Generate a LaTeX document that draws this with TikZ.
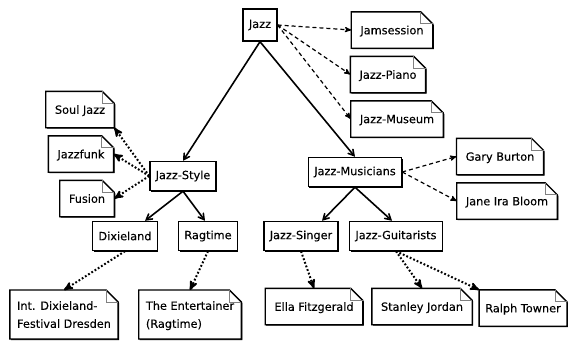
\documentclass[tikz,border=0pt]{standalone}
\usepackage{fontspec}
\setmainfont{DejaVu Sans}[FakeBold=0.12]
\usetikzlibrary{arrows,positioning,shadows}
\pgfdeclarelayer{background}
\pgfsetlayers{background,main}

\begin{document}
\begin{tikzpicture}[x=1pt,y=-1pt,on grid,
        font=\fontsize{11.3}{18}\selectfont,
        box/.style={rectangle,draw,line width=1.4pt,fill=white,inner xsep=5.8pt,
          minimum height=29pt,
          drop shadow={shadow xshift=1pt,shadow yshift=-1pt,fill=black,opacity=1}},
        note/.style={rectangle,align=left,inner xsep=9pt,inner ysep=11pt,
          minimum height=36pt,text depth=0pt,yshift=-1.5pt},
        notebody/.style={draw,line width=1.4pt,fill=white,
          drop shadow={shadow xshift=1pt,shadow yshift=-1pt,fill=black,opacity=1}},
        sub/.style={-angle 60,line width=1.6pt},
        link/.style={->,>=stealth',line width=1.2pt,dash pattern=on 4pt off 3pt},
        refer/.style={->,>=stealth',line width=2pt,dash pattern=on 1.8pt off 2pt}]

  \useasboundingbox (0,0) rectangle (569,343);

  \node[box,minimum height=32pt] (jazz) at (260,25) {Jazz};
  \node[note] (jam) [below right=3.5pt and 132pt of jazz] {Jamsession};
  \node[note] (piano) [below left=43pt and 4pt of jam] {Jazz-Piano};
  \node[note] (museum) [below right=43pt and 9pt of piano] {Jazz-Museum};

  \node[box] (style) [below left=151pt and 77pt of jazz] {Jazz-Style};
  \node[note] (souljazz) [above left=68pt and 103pt of style] {Soul Jazz};
  \node[note] (jazzfunk) [below right=43pt and 1pt of souljazz] {Jazzfunk};
  \node[note] (fusion) [below right=43pt and 6pt of jazzfunk] {Fusion};
  \node[box] (dix) [below left=60pt and 58pt of style] {Dixieland};
  \node[box] (rag) [right=83pt of dix] {Ragtime};
  \node[note,inner xsep=7pt] (intdix) [below left=77pt and 61pt of dix] {Int. Dixieland-\\Festival Dresden};
  \node[note,inner xsep=7pt] (enter) [below left=77pt and 18pt of rag] {The Entertainer\\(Ragtime)};

  \node[box] (musicians) [below right=147pt and 95pt of jazz] {Jazz-Musicians};
  \node[note] (gary) [above right=17pt and 145pt of musicians] {Gary Burton};
  \node[note] (jane) [below right=43pt and 7pt of gary] {Jane Ira Bloom};
  \node[box] (singer) [below left=64pt and 54pt of musicians] {Jazz-Singer};
  \node[box] (guit) [right=95pt of singer] {Jazz-Guitarists};
  \node[note] (ella) [below right=69pt and 13pt of singer] {Ella Fitzgerald};
  \node[note] (stanley) [below right=69pt and 26pt of guit] {Stanley Jordan};
  \node[note,inner xsep=6pt] (ralph) [right=101pt of stanley] {Ralph Towner};

  % note outlines with folded corner
  \begin{pgfonlayer}{background}
    \foreach \n in {jam,piano,museum,souljazz,jazzfunk,fusion,intdix,enter,
                    gary,jane,ella,stanley,ralph}{
      \draw[notebody] (\n.north west) -- ([xshift=-12pt]\n.north east)
        -- ([yshift=-12pt]\n.north east) -- (\n.south east) -- (\n.south west) -- cycle;
      \draw[gray,line width=.7pt] ([xshift=-12pt]\n.north east) |- ([yshift=-12pt]\n.north east);
    }
  \end{pgfonlayer}

  \draw[sub] (jazz.south) -- (style.north);
  \draw[sub] (jazz.south) -- (musicians.north);
  \draw[sub] (style.south) -- ([xshift=20pt]dix.north);
  \draw[sub] (style.south) -- ([xshift=-3pt]rag.north);
  \draw[sub] (musicians.south) -- ([xshift=21pt]singer.north);
  \draw[sub] (musicians.south) -- ([xshift=-4pt]guit.north);

  \draw[link] (jazz.east) -- (jam.west);
  \draw[link] (jazz.east) -- (piano.west);
  \draw[link] (jazz.east) -- (museum.west);
  \draw[link] (musicians.east) -- (gary.west);
  \draw[link] (musicians.east) -- (jane.west);

  \draw[refer] (style.west) -- (souljazz.south east);
  \draw[refer] (style.west) -- (jazzfunk.east);
  \draw[refer] (style.west) -- (fusion.east);
  \draw[refer] (dix.south) -- (intdix.north);
  \draw[refer] (rag.south) -- (enter.north);
  \draw[refer] (singer.south) -- (ella.north);
  \draw[refer] (guit.south) -- (stanley.north);
  \draw[refer] (guit.south) -- (ralph.north west);

\end{tikzpicture}
\end{document}
